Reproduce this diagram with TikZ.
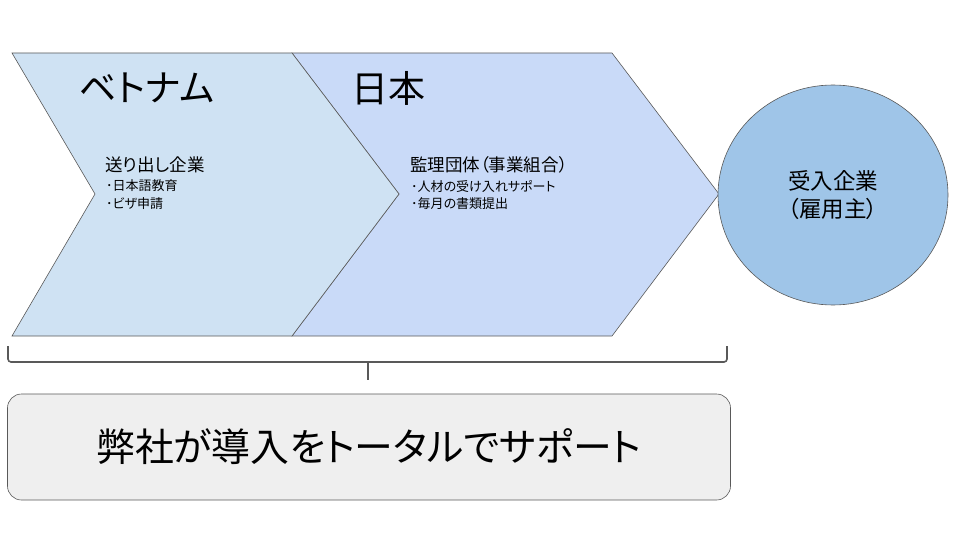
\documentclass[tikz,border=0pt]{standalone}
\usepackage{fontspec}
\setmainfont{Noto Sans CJK JP}[RawFeature=+palt]
\usetikzlibrary{shapes.geometric}
\definecolor{vnblue}{HTML}{CFE2F3}
\definecolor{jpblue}{HTML}{C9DAF8}
\definecolor{coblue}{HTML}{9FC5E8}
\definecolor{boxgray}{HTML}{EFEFEF}
\definecolor{edgegray}{HTML}{595959}

\begin{document}
\begin{tikzpicture}[x=1pt,y=-1pt,
  chev/.style={draw=edgegray,line width=0.6pt},
  title/.style={anchor=west,inner sep=0pt,font=\fontsize{37}{40}\selectfont},
  head/.style={anchor=west,inner sep=0pt,font=\fontsize{17.5}{20}\selectfont},
  item/.style={anchor=west,inner sep=0pt,font=\fontsize{13}{15}\selectfont}]
\useasboundingbox (0,0) rectangle (960,540);

% chevrons
\draw[chev,fill=jpblue] (292,53) -- (612,53) -- (719,194) -- (612,336) -- (292,336) -- (399,194) -- cycle;
\draw[chev,fill=vnblue] (12,53) -- (292,53) -- (399,194) -- (292,336) -- (12,336) -- (95,194) -- cycle;

\node[title] (VN) at (79,88) {ベトナム};
\node[title] (JP) at (351,88) {日本};

\node[head] (send) at (105,165) {送り出し企業};
\node[item] (send1) at (106,186) {･日本語教育};
\node[item] (send2) at (106,204) {･ビザ申請};

\node[head] (kanri) at (410,165) {監理団体（事業組合）};
\node[item] (kanri1) at (411,186) {･人材の受け入れサポート};
\node[item] (kanri2) at (411,204) {･毎月の書類提出};

% employer
\node[ellipse,draw=edgegray,line width=0.6pt,fill=coblue,minimum width=230pt,minimum height=220pt,
  align=center,font=\fontsize{22.5}{28}\selectfont] (emp) at (833,195) {受入企業\\（雇用主）};

% bracket
\coordinate (bl) at (8,346);
\coordinate (br) at (727,346);
\coordinate (bm) at (368,362);
\draw[edgegray,line width=1.6pt,rounded corners=3pt] (bl) -- (8,362) -- (727,362) -- (br);
\draw[edgegray,line width=1.6pt] (bm) -- (368,380);

\node[draw=edgegray,line width=0.6pt,fill=boxgray,rounded corners=14pt,minimum width=723pt,minimum height=106pt,
  font=\fontsize{38.8}{44}\selectfont] (total) at (369,447) {弊社が導入をトータルでサポート};
\end{tikzpicture}
\end{document}
